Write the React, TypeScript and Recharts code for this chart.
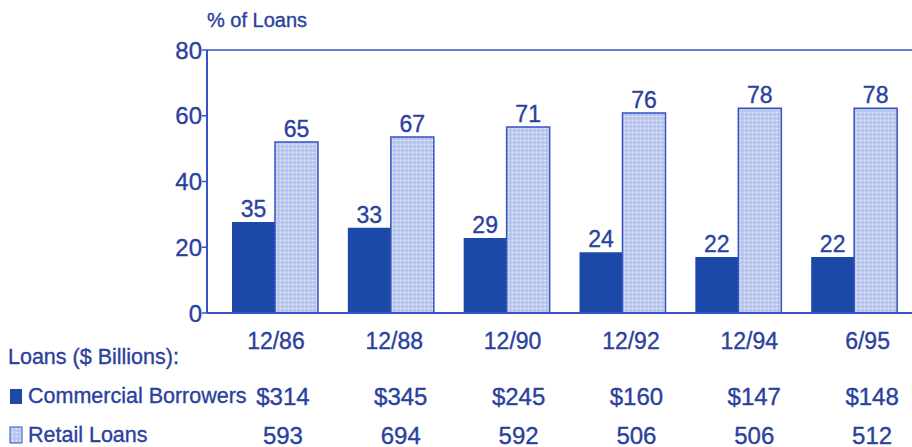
import { BarChart, Bar, XAxis, YAxis, ReferenceLine, LabelList } from 'recharts';

const PERIODS = ['12/86', '12/88', '12/90', '12/92', '12/94', '6/95'];
// printed shares above the bars (% of loans)
const COMMERCIAL_SHARE = [35, 33, 29, 24, 22, 22];
const RETAIL_SHARE = [65, 67, 71, 76, 78, 78];
// bar heights as drawn against the % axis
const COMMERCIAL_BAR = [27.7, 25.9, 22.8, 18.5, 17, 17];
const RETAIL_BAR = [52, 53.5, 56.6, 60.8, 62.3, 62.3];
// loans ($ billions) table under the chart
const COMMERCIAL_LOANS = ['$314', '$345', '$245', '$160', '$147', '$148'];
const RETAIL_LOANS = ['593', '694', '592', '506', '506', '512'];
const Y_TICKS = [0, 20, 40, 60, 80];

const INK = '#2a419e';
const LINE = '#3553c2';
const DARK = '#1c48a8';
const FONT = '"Liberation Sans", Arial, Helvetica, sans-serif';
const THICK = { stroke: INK, strokeWidth: 0.35 };

const data = PERIODS.map((p, i) => ({
  period: p,
  commercial: COMMERCIAL_BAR[i],
  retail: RETAIL_BAR[i],
  commercialShare: COMMERCIAL_SHARE[i],
  retailShare: RETAIL_SHARE[i],
}));

// x-axis tick draws the date plus the two table rows under it
function TableTick(props: any) {
  const { x, payload } = props;
  const i = payload.index;
  return (
    <g fontFamily={FONT}>
      <text x={x + 1 + 2.5 * i} y={341} textAnchor="middle" dominantBaseline="central" fontSize={23} fill={INK} {...THICK}>
        {PERIODS[i]}
      </text>
      <text x={x + 8 + 2 * i} y={396} textAnchor="middle" dominantBaseline="central" fontSize={24} fill={INK} {...THICK}>
        {COMMERCIAL_LOANS[i]}
      </text>
      <text x={x + 8 + 2 * i} y={435} textAnchor="middle" dominantBaseline="central" fontSize={24} fill={INK} {...THICK}>
        {RETAIL_LOANS[i]}
      </text>
    </g>
  );
}

export default function App() {
  return (
    <div style={{ position: 'absolute', left: 0, top: 0, width: 912, height: 447, background: '#fff' }}>
      <svg width={0} height={0} style={{ position: 'absolute' }}>
        <defs>
          <pattern id="dots" width={4} height={4} patternUnits="userSpaceOnUse">
            <rect width={4} height={4} fill="#bfcbec" />
            <rect x={0} y={0} width={1} height={1} fill="#eef2fc" />
            <rect x={2} y={2} width={1} height={1} fill="#98abdc" />
          </pattern>
        </defs>
      </svg>

      <BarChart
        width={912}
        height={447}
        data={data}
        margin={{ top: 50, right: 0, bottom: 0, left: 0 }}
        barSize={43}
        barGap={0}
      >
        <XAxis
          dataKey="period"
          height={134}
          padding={{ left: 10, right: 0 }}
          axisLine={{ stroke: LINE, strokeWidth: 2 }}
          tickLine={false}
          tick={<TableTick />}
          interval={0}
        />
        <YAxis
          width={207}
          domain={[0, 80]}
          ticks={Y_TICKS}
          axisLine={{ stroke: LINE, strokeWidth: 2 }}
          tickLine={{ stroke: LINE, strokeWidth: 1.5 }}
          tickSize={5}
          tickMargin={0}
          tick={{ fill: INK, fontSize: 24, fontFamily: FONT, ...THICK }}
        />
        <ReferenceLine y={80} stroke={LINE} strokeWidth={1.5} />
        <Bar dataKey="commercial" fill={DARK} isAnimationActive={false}>
          <LabelList dataKey="commercialShare" position="top" offset={5} fill={INK} fontSize={23} fontFamily={FONT} {...THICK} />
        </Bar>
        <Bar dataKey="retail" fill="url(#dots)" stroke={LINE} strokeWidth={1.5} isAnimationActive={false}>
          <LabelList dataKey="retailShare" position="top" offset={5} fill={INK} fontSize={23} fontFamily={FONT} {...THICK} />
        </Bar>
      </BarChart>

      <svg width={912} height={447} style={{ position: 'absolute', left: 0, top: 0, pointerEvents: 'none' }} fontFamily={FONT}>
        <text x={207} y={20} dominantBaseline="central" fontSize={20} fill={INK} {...THICK}>% of Loans</text>
        <text x={8} y={357} dominantBaseline="central" fontSize={21.5} fill={INK} {...THICK}>Loans ($ Billions):</text>
        <rect x={10} y={389} width={12} height={15} fill={DARK} />
        <text x={28} y={396} dominantBaseline="central" fontSize={21.5} fill={INK} {...THICK}>Commercial Borrowers</text>
        <rect x={10} y={427} width={12} height={16} fill="url(#dots)" stroke={LINE} strokeWidth={1} />
        <text x={28} y={435} dominantBaseline="central" fontSize={21.5} fill={INK} {...THICK}>Retail Loans</text>
      </svg>
    </div>
  );
}
